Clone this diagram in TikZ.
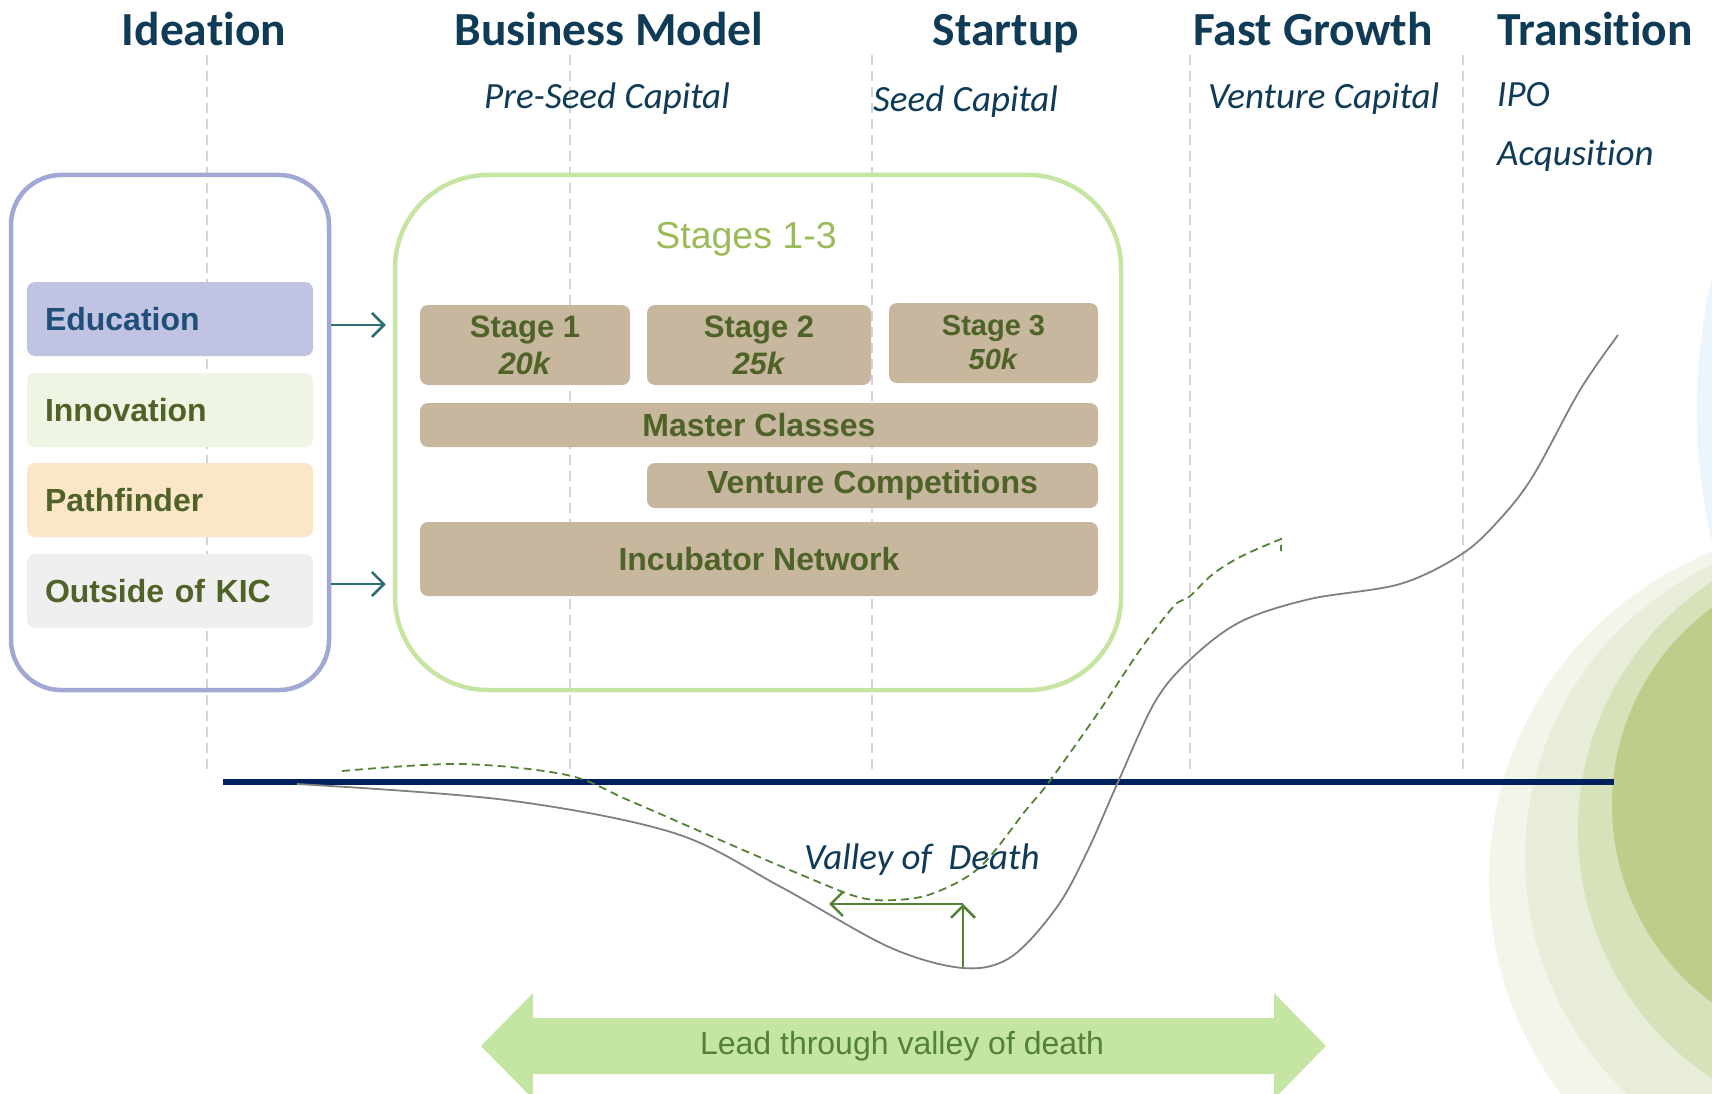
\documentclass[tikz,border=0pt]{standalone}
\usepackage{fontspec}
\setmainfont{Liberation Sans}
\newfontfamily\calibri[Ligatures=NoCommon]{Carlito}
\usetikzlibrary{arrows.meta}
\definecolor{titlecol}{HTML}{0F3B57}
\definecolor{lavline}{HTML}{A2A8D5}
\definecolor{greenline}{HTML}{C6E5A3}
\definecolor{edufill}{HTML}{C0C4E2}
\definecolor{edutext}{HTML}{1F4E79}
\definecolor{innofill}{HTML}{EEF5E3}
\definecolor{pathfill}{HTML}{FBE6C8}
\definecolor{outsfill}{HTML}{EFEFEF}
\definecolor{olive}{HTML}{4F6228}
\definecolor{tanfill}{HTML}{C6B79E}
\definecolor{stagegreen}{HTML}{9BBB59}
\definecolor{axisnavy}{HTML}{001F5F}
\definecolor{arrowteal}{HTML}{2E6E73}
\definecolor{leafgreen}{HTML}{538135}
\definecolor{leadfill}{HTML}{C5E6A2}
\definecolor{glowa}{HTML}{F2F5EA}
\definecolor{glowb}{HTML}{E7EDD8}
\definecolor{glowc}{HTML}{D6E2BA}
\definecolor{glowd}{HTML}{BDCE8B}
\definecolor{glowblue}{HTML}{EBF5FB}

\begin{document}
\begin{tikzpicture}[x=1pt, y=-1pt, >={Straight Barb[length=12pt,width=24pt]},
    phase/.style={anchor=base, text=titlecol, font=\calibri\bfseries\fontsize{47.5}{56}\selectfont},
    fundtext/.style={anchor=base west, inner sep=0pt, text=titlecol, font=\calibri\itshape\fontsize{37}{44}\selectfont},
    catbox/.style={rounded corners=8pt, minimum width=286pt, minimum height=74pt, text width=250pt, inner xsep=18pt, align=left, text=olive, font=\bfseries\fontsize{32}{38}\selectfont},
    tanbox/.style={fill=tanfill, rounded corners=8pt, inner sep=0pt, align=center, text=olive, font=\bfseries\fontsize{32}{38}\selectfont},
    framebox/.style={draw, line width=4.5pt, inner sep=0pt, minimum height=515pt}]
\useasboundingbox (0,0) rectangle (1712,1094);
\clip (0,0) rectangle (1712,1094);

% glow in the corner
\fill[glowblue](2285,410) circle (588);
\fill[glowa](1842,880) circle (353);
\fill[glowb](1848,858) circle (323);
\fill[glowc](1875,830) circle (297);
\fill[glowd](1857,805) circle (245);

\foreach \x in {207,570,872,1190,1463}
{
    \draw[black!17, line width=1.5pt, dash pattern=on 10pt off 6pt](\x,55)--(\x,775);
}

% phases
\node[phase] (ideation) at (204,46) {Ideation};
\node[phase] (bizmodel) at (609,46) {Business Model};
\node[phase] (startup) at (1006,46) {Startup};
\node[phase] (growth) at (1313,46) {Fast Growth};
\node[phase] (transition) at (1595,46) {Transition};

\node[fundtext] (preseed) at (484,109) {Pre-Seed Capital};
\node[fundtext] (seed) at (873,112) {Seed Capital};
\node[fundtext] (venture) at (1208,109) {Venture Capital};
\node[fundtext] (ipo) at (1497,107) {IPO};
\node[fundtext] (acq) at (1497,166) {Acqusition};

% left and middle frames
\node[framebox, draw=lavline, rounded corners=50pt, minimum width=318pt] (ideabox) at (170,432.5) {};
\node[framebox, draw=greenline, rounded corners=93pt, minimum width=726pt] (stagebox) at (758,432.5) {};

\node[catbox, fill=edufill, text=edutext] (edu) at (170,319) {Education};
\node[catbox, fill=innofill] (inno) at (170,410) {Innovation};
\node[catbox, fill=pathfill] (pathf) at (170,500) {Pathfinder};
\node[catbox, fill=outsfill] (outs) at (170,591) {Outside of KIC};

\draw[->, arrowteal, line width=2.5pt, shorten >=7pt]([yshift=-6pt]ideabox.east|-edu.east)--([yshift=-6pt]stagebox.west|-edu.east);
\draw[->, arrowteal, line width=2.5pt, shorten >=7pt]([yshift=7pt]ideabox.east|-outs.east)--([yshift=7pt]stagebox.west|-outs.east);

\node[text=stagegreen, font=\fontsize{37.5}{45}\selectfont] (stagetitle) at (746,239) {Stages 1-3};

\node[tanbox, minimum width=210pt, minimum height=80pt, font=\bfseries\fontsize{31}{37}\selectfont] (st1) at (525,345) {Stage 1\\\textit{20k}};
\node[tanbox, minimum width=224pt, minimum height=80pt, font=\bfseries\fontsize{31}{37}\selectfont] (st2) at (759,345) {Stage 2\\\textit{25k}};
\node[tanbox, minimum width=209pt, minimum height=80pt, font=\bfseries\fontsize{29}{34}\selectfont] (st3) at (993.5,343) {Stage 3\\\textit{50k}};
\node[tanbox, minimum width=678pt, minimum height=44pt] (master) at (759,425) {Master Classes};
\node[tanbox, minimum width=451pt, minimum height=45pt] (ventcomp) at (872.5,485.5) {Venture Competitions};
\node[tanbox, minimum width=678pt, minimum height=74pt] (incub) at (759,559) {Incubator Network};

% axis and curves
\draw[axisnavy, line width=6pt](223,782)--(1614,782);
\draw[black!50, line width=1.8pt] plot[smooth, tension=.55] coordinates {(297,784) (506,800) (674,833) (781,887) (889,947) (963,968) (1011,957) (1057,907) (1088,850) (1118,782) (1156,700) (1194,656) (1242,621) (1310,599) (1400,584) (1462,554) (1500,519) (1533,476) (1580,390) (1618,335)};
\draw[leafgreen, line width=1.8pt, dash pattern=on 8pt off 5pt] plot[smooth, tension=.55] coordinates {(342,771) (460,764) (567,775) (628,800) (720,840) (797,873) (858,897) (896,900) (934,893) (980,867) (1026,810) (1049,782) (1100,710) (1140,650) (1174,606) (1189,597) (1213,574) (1242,556) (1281,539)}--(1281,551);

\coordinate (vmin) at (963,967);
\coordinate (vtop) at (963,904);
\coordinate (vleft) at (829,904);
\draw[->, leafgreen, line width=2.5pt](vmin)--(vtop);
\draw[->, leafgreen, line width=2.5pt](vtop)--(vleft);
\node[fundtext, font=\calibri\itshape\fontsize{37}{44}\selectfont] (valley) at (804,869) {Valley of\ \ Death};

% lead arrow
\fill[leadfill](481,1046)--(533,993)--(533,1018)--(1274,1018)--(1274,993)--(1326,1046)--(1274,1099)--(1274,1074)--(533,1074)--(533,1099)--cycle;
\node[text=leafgreen, font=\fontsize{32}{38}\selectfont] (lead) at (902,1046) {Lead through valley of death};
\end{tikzpicture}
\end{document}
